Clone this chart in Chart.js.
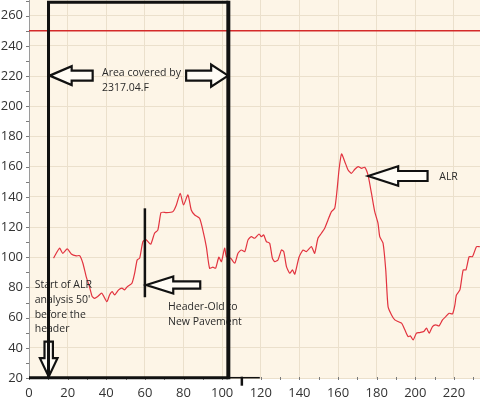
<!DOCTYPE html>
<html>
<head>
<meta charset="utf-8">
<script src="https://cdn.jsdelivr.net/npm/chart.js@4.4.0/dist/chart.umd.min.js"></script>
<style>
  html, body { margin: 0; padding: 0; background: #fff; }
  canvas { display: block; }
</style>
</head>
<body>
<canvas id="chart" width="480" height="403"></canvas>
<script>
// distance (ft) and ALR readings
var distance = [12.7, 15.8, 17.5, 19.8, 21.9, 24.5, 26.2, 27.9, 29.6, 31.3,
  32.7, 33.9, 35.6, 37.7, 40.3, 41.7, 43.1, 44.3, 46.4, 48.1,
  49.5, 50.9, 53.3, 54.7, 56.0, 57.3, 59.0, 60.7, 63.0, 65.0,
  66.7, 68.3, 69.5, 71.1, 74.5, 76.3, 78.3, 80.0, 82.3, 84.0,
  85.8, 88.3, 90.0, 91.8, 93.5, 95.2, 96.6, 98.3, 99.6, 101.3,
  102.2, 104.4, 106.5, 108.2, 109.9, 111.7, 113.4, 115.1, 116.8, 119.1,
  120.3, 121.5, 122.9, 124.6, 126.0, 127.2, 128.9, 130.7, 131.9, 133.3,
  135.0, 136.4, 137.6, 139.8, 141.9, 143.6, 146.2, 147.9, 149.6, 151.4,
  153.1, 154.8, 156.6, 158.3, 159.5, 160.5, 161.8, 163.5, 165.2, 166.9,
  168.7, 170.4, 172.2, 173.8, 175.5, 177.3, 179.0, 180.7, 181.6, 183.3,
  184.7, 185.9, 187.7, 189.4, 191.1, 192.9, 194.6, 196.3, 197.5, 198.9,
  200.6, 202.3, 204.4, 205.8, 207.2, 208.9, 210.6, 212.3, 214.1, 215.8,
  217.5, 219.3, 220.5, 221.3, 223.1, 224.8, 226.2, 227.9, 229.6, 231.7,
  233.4];
var alr = [99.4, 106, 102.6, 105.5, 102.2, 100.9, 101, 96, 87.2, 80.5,
  74, 72.8, 74, 76.2, 70.6, 75, 77.2, 75, 78.4, 79.5,
  78.4, 80.5, 82.8, 89.4, 98.2, 99.4, 110.4, 111.5, 108.6, 115.9,
  118, 129.5, 129.8, 129.5, 130.2, 134.6, 142.4, 134.6, 141.3, 131.3,
  128, 125.8, 118, 107, 92.7, 93.4, 92.7, 100, 97.1, 106,
  100.4, 99.4, 96, 102.6, 104.8, 103.7, 111.5, 113.6, 112.6, 115.4,
  113.6, 114.8, 110.4, 109.3, 99.4, 97.1, 98.2, 104.8, 103.7, 93.8,
  89.4, 91.6, 88.8, 100, 104.8, 103.7, 107, 102.6, 112.6, 115.9,
  119.2, 124.7, 130.2, 132.5, 144.6, 157.8, 168.4, 163.3, 157.8, 155.6,
  158.3, 160, 158.9, 159.6, 154.5, 142.4, 130.2, 122.5, 113.6, 109.3,
  91.6, 67.3, 61.8, 58.5, 57.4, 56.3, 51.9, 47.4, 47.9, 45.2,
  49.7, 50.1, 50.8, 53, 49.7, 54.1, 55.2, 54.5, 58.5, 60.7,
  62.9, 62.5, 68.4, 75, 78.4, 91.6, 91.6, 100.4, 100.4, 107,
  107];
var xTickLabels = [0, 20, 40, 60, 80, 100, 120, 140, 160, 180, 200, 220];
var yTickLabels = [20, 40, 60, 80, 100, 120, 140, 160, 180, 200, 220, 240, 260];
var limitValue = 250;

var points = distance.map(function (d, i) { return { x: d, y: alr[i] }; });

var gridColor = '#ebe0cc';
var ink = '#111';
var textColor = '#2a2a2a';

// hollow block arrow, tip at (tx, ty), pointing along (dx, dy)
function blockArrow(ctx, tx, ty, dx, dy, len, head, headHalf, shaftHalf) {
  var nx = -dy, ny = dx;
  var bx = tx - dx * head, by = ty - dy * head;
  var ex = tx - dx * len, ey = ty - dy * len;
  ctx.beginPath();
  ctx.moveTo(tx, ty);
  ctx.lineTo(bx + nx * headHalf, by + ny * headHalf);
  ctx.lineTo(bx + nx * shaftHalf, by + ny * shaftHalf);
  ctx.lineTo(ex + nx * shaftHalf, ey + ny * shaftHalf);
  ctx.lineTo(ex - nx * shaftHalf, ey - ny * shaftHalf);
  ctx.lineTo(bx - nx * shaftHalf, by - ny * shaftHalf);
  ctx.lineTo(bx - nx * headHalf, by - ny * headHalf);
  ctx.closePath();
  ctx.fillStyle = '#fffcf5';
  ctx.fill();
  ctx.lineWidth = 2.2;
  ctx.lineJoin = 'miter';
  ctx.strokeStyle = ink;
  ctx.stroke();
}

function textLines(ctx, lines, x, y, step) {
  ctx.fillStyle = textColor;
  ctx.font = '10.5px "Open Sans"';
  ctx.textAlign = 'left';
  ctx.textBaseline = 'middle';
  lines.forEach(function (s, i) { ctx.fillText(s, x, y + i * step); });
}

var notes = {
  id: 'notes',
  beforeDraw: function (chart) {
    var a = chart.chartArea, ctx = chart.ctx;
    ctx.save();
    ctx.fillStyle = '#fdf5e7';
    ctx.fillRect(a.left, a.top, a.right - a.left, a.bottom - a.top);
    ctx.restore();
  },
  beforeDatasetsDraw: function (chart) {
    var ctx = chart.ctx, a = chart.chartArea, ys = chart.scales.y;
    var y = ys.getPixelForValue(limitValue);
    ctx.save();
    ctx.strokeStyle = '#d42a2a';
    ctx.lineWidth = 1.5;
    ctx.beginPath();
    ctx.moveTo(a.left, y);
    ctx.lineTo(a.right, y);
    ctx.stroke();
    ctx.restore();
  },
  afterDatasetsDraw: function (chart) {
    var ctx = chart.ctx, a = chart.chartArea;
    var xs = chart.scales.x, ys = chart.scales.y;
    var X = function (v) { return xs.getPixelForValue(v); };
    var Y = function (v) { return ys.getPixelForValue(v); };
    var v, p;
    ctx.save();

    // small tick marks every 10
    ctx.strokeStyle = '#7a7a7a';
    ctx.lineWidth = 1;
    for (v = 20; v <= 270; v += 10) {
      p = Math.round(Y(v)) + 0.5;
      ctx.beginPath(); ctx.moveTo(a.left - 3, p); ctx.lineTo(a.left, p); ctx.stroke();
    }
    for (v = 0; v <= 230; v += 10) {
      p = Math.round(X(v)) + 0.5;
      ctx.beginPath(); ctx.moveTo(p, a.bottom - 1); ctx.lineTo(p, a.bottom + 2); ctx.stroke();
    }

    // labels
    textLines(ctx, ['Area covered by', '2317.04.F'], X(37.8), Y(221.9), 15);
    textLines(ctx, ['Header-Old to', 'New Pavement'], X(72), Y(66.8), 14.4);
    textLines(ctx, ['Start of ALR', "analysis 50'", 'before the', 'header'], X(2.95), Y(81.6), 14.8);
    textLines(ctx, ['ALR'], X(212.4), Y(153), 15);

    // arrows
    blockArrow(ctx, X(10.7), Y(220.3), -1, 0, 43, 22, 9.5, 5);
    blockArrow(ctx, X(103.1), Y(220.3), 1, 0, 42, 17, 11, 5);
    blockArrow(ctx, X(60.7), Y(81.6), -1, 0, 54, 27, 8.5, 3.7);
    blockArrow(ctx, X(175.6), Y(153.8), -1, 0, 59.4, 30, 9.7, 5);
    blockArrow(ctx, X(10.2), Y(20.9), 0, 1, 35, 18.5, 8.8, 4.2);

    // header marker
    ctx.strokeStyle = ink;
    ctx.lineCap = 'butt';
    ctx.lineWidth = 2.5;
    ctx.beginPath(); ctx.moveTo(X(60), Y(132.4)); ctx.lineTo(X(60), Y(73.5)); ctx.stroke();

    // box for the covered area
    var top = Y(268.9), bottom = Y(20) - 0.3;
    ctx.lineWidth = 3;
    ctx.beginPath(); ctx.moveTo(X(10.1), bottom); ctx.lineTo(X(10.1), top); ctx.lineTo(X(103.2), top); ctx.stroke();
    ctx.lineWidth = 4;
    ctx.beginPath(); ctx.moveTo(X(103.2), top - 1.5); ctx.lineTo(X(103.2), bottom + 1.5); ctx.stroke();
    ctx.lineWidth = 3;
    ctx.beginPath(); ctx.moveTo(X(0), bottom); ctx.lineTo(X(103.2), bottom); ctx.stroke();
    ctx.lineWidth = 1.5;
    ctx.beginPath(); ctx.moveTo(X(103.2), bottom); ctx.lineTo(X(119.5), bottom); ctx.stroke();
    ctx.lineWidth = 2.5;
    ctx.beginPath(); ctx.moveTo(X(110.2), bottom - 1); ctx.lineTo(X(110.2), bottom + 8); ctx.stroke();

    ctx.restore();
  }
};

function tickList(labels, extra) {
  return function (axis) {
    axis.ticks = labels.concat([extra]).map(function (v) { return { value: v }; });
  };
}

Chart.defaults.font.family = '"Open Sans", "Noto Sans", sans-serif';

new Chart(document.getElementById('chart'), {
  type: 'line',
  data: {
    datasets: [{
      label: 'ALR',
      data: points,
      borderColor: '#e2333f',
      borderWidth: 1.2,
      pointRadius: 0,
      tension: 0.2,
      fill: false
    }]
  },
  options: {
    responsive: false,
    animation: false,
    layout: { padding: 0 },
    plugins: { legend: { display: false }, tooltip: { enabled: false } },
    scales: {
      x: {
        type: 'linear',
        min: 0,
        max: 233.5,
        afterBuildTicks: tickList(xTickLabels, 230),
        afterFit: function (s) { s.height = 25; },
        border: { display: false },
        grid: {
          color: function (c) { return xTickLabels.indexOf(c.tick.value) >= 0 ? gridColor : 'transparent'; },
          tickColor: 'transparent',
          tickLength: 7,
          lineWidth: 1
        },
        ticks: {
          autoSkip: false,
          maxRotation: 0,
          padding: 0,
          color: '#333',
          font: { size: 13 },
          callback: function (v) { return xTickLabels.indexOf(v) >= 0 ? String(v) : []; }
        }
      },
      y: {
        min: 20,
        max: 270.4,
        afterBuildTicks: tickList(yTickLabels, 270),
        afterFit: function (s) { s.width = 29; },
        border: { display: true, color: '#9a9a9a', width: 1 },
        grid: {
          color: function (c) { return yTickLabels.indexOf(c.tick.value) >= 0 ? gridColor : 'transparent'; },
          tickColor: 'transparent',
          tickLength: 6,
          lineWidth: 1
        },
        ticks: {
          autoSkip: false,
          padding: 0,
          color: '#333',
          font: { size: 13 },
          callback: function (v) { return yTickLabels.indexOf(v) >= 0 ? String(v) : []; }
        }
      }
    }
  },
  plugins: [notes]
});
</script>
</body>
</html>
